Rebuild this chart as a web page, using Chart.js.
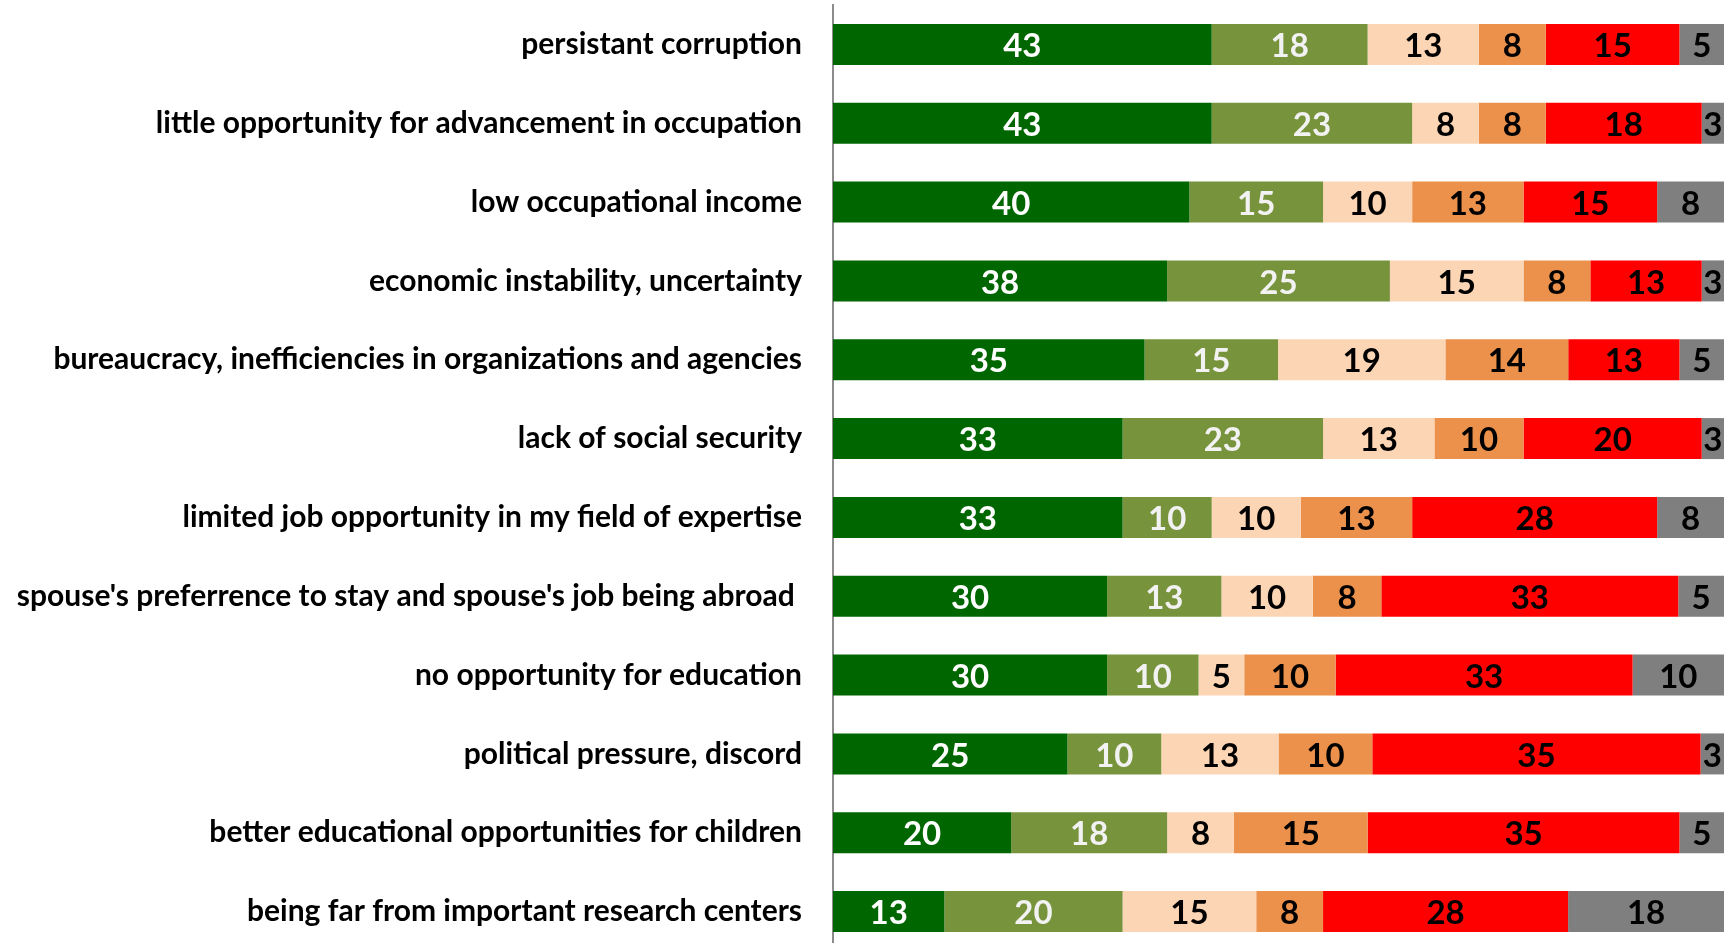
<!DOCTYPE html>
<html>
<head>
<meta charset="utf-8">
<script src="https://cdn.jsdelivr.net/npm/chart.js@4.4.1/dist/chart.umd.min.js"></script>
<style>
  html, body { margin: 0; padding: 0; background: #fff; overflow: hidden; }
  #wrap { width: 1735px; height: 951px; }
</style>
</head>
<body>
<div id="wrap"><canvas id="myChart" width="1735" height="951"></canvas></div>
<script>
const categories = [
  'persistant corruption',
  'little opportunity for advancement in occupation',
  'low occupational income',
  'economic instability, uncertainty',
  'bureaucracy, inefficiencies in organizations and agencies',
  'lack of social security',
  'limited job opportunity in my field of expertise',
  "spouse's preferrence to stay and spouse's job being abroad ",
  'no opportunity for education',
  'political pressure, discord',
  'better educational opportunities for children',
  'being far from important research centers'
];

// percent of respondents per answer, top row first
const veryImportant     = [42.5, 42.5, 40,   37.5, 35,   32.5, 32.5, 30,   30,   25,   20,   12.5];
const important         = [17.5, 22.5, 15,   25,   15,   22.5, 10,   12.5, 10,   10,   17.5, 20];
const somewhatImportant = [12.5, 7.5,  10,   15,   18.8, 12.5, 10,   10,   5,    12.5, 7.5,  15];
const littleImportant   = [7.5,  7.5,  12.5, 7.5,  13.8, 10,   12.5, 7.5,  10,   10,   15,   7.5];
const notImportant      = [15,   17.5, 15,   12.5, 12.5, 20,   27.5, 32.5, 32.5, 35,   35,   27.5];
const noAnswer          = [5,    2.5,  7.5,  2.5,  5,    2.5,  7.5,  5,    10,   2.5,  5,    17.5];

const series = [veryImportant, important, somewhatImportant, littleImportant, notImportant, noAnswer];
const seriesNames = ['very important', 'important', 'somewhat important', 'little importance', 'not important', 'no answer'];
const colors = ['#006600', '#77933C', '#FCD5B5', '#EB914B', '#FF0000', '#7F7F7F'];
const labelColors = ['#FFFFFF', '#F2F2F2', '#000000', '#000000', '#000000', '#000000'];

// 100% stacked: every row is scaled to its own total
const rowTotals = categories.map((c, i) => series.reduce((s, arr) => s + arr[i], 0));

const datasets = series.map((arr, k) => ({
  label: seriesNames[k],
  data: arr.map((v, i) => v / rowTotals[i] * 100),
  raw: arr,
  backgroundColor: colors[k],
  borderWidth: 0,
  categoryPercentage: 1,
  barPercentage: 0.52
}));

const barLabels = {
  id: 'barLabels',
  afterDatasetsDraw(chart) {
    const ctx = chart.ctx;
    ctx.save();
    ctx.font = 'bold 33px Lato';
    ctx.textAlign = 'center';
    ctx.textBaseline = 'middle';
    chart.data.datasets.forEach((ds, k) => {
      const meta = chart.getDatasetMeta(k);
      meta.data.forEach((bar, i) => {
        const x = (bar.x + bar.base) / 2;
        ctx.fillStyle = labelColors[k];
        ctx.fillText(String(Math.round(ds.raw[i])), x, bar.y + 2);
      });
    });
    ctx.restore();
  }
};

const options = {
  responsive: false,
  animation: false,
  indexAxis: 'y',
  layout: { padding: { top: 5, right: 11, bottom: 0, left: 0 } },
  scales: {
    x: {
      display: false,
      stacked: true,
      min: 0,
      max: 100
    },
    y: {
      stacked: true,
      grid: { display: true, drawOnChartArea: false, drawTicks: true, tickLength: 31, tickColor: 'rgba(0,0,0,0)' },
      border: { display: true, color: '#8C8C8C', width: 2 },
      ticks: {
        color: '#000000',
        padding: 0,
        font: { family: 'Lato', weight: 'bold', size: 30 }
      },
      afterFit(scale) {
        scale.width = 833;
        scale.paddingTop = 0;
        scale.paddingBottom = 0;
      }
    }
  },
  plugins: {
    legend: { display: false },
    tooltip: { enabled: false }
  }
};

const ctx = document.getElementById('myChart').getContext('2d');
const myChart = new Chart(ctx, {
  type: 'bar',
  data: { labels: categories, datasets: datasets },
  options: options,
  plugins: [barLabels]
});
</script>
</body>
</html>
